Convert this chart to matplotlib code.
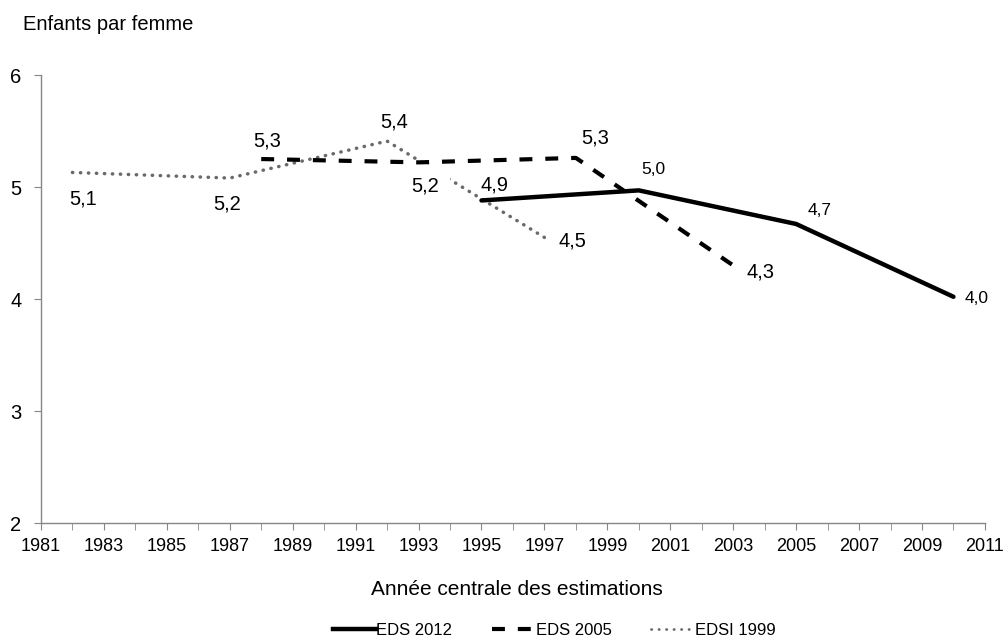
import matplotlib
matplotlib.use("Agg")
import matplotlib.pyplot as plt
from matplotlib.ticker import MultipleLocator, FixedLocator
from matplotlib.lines import Line2D

plt.rcParams['font.family'] = ['Liberation Sans', 'DejaVu Sans']

# Data
years_2012 = [1995, 2000, 2005, 2010]
vals_2012 = [4.88, 4.97, 4.67, 4.02]
labels_2012 = ["4,9", "5,0", "4,7", "4,0"]

years_2005 = [1988, 1993, 1998, 2003]
vals_2005 = [5.25, 5.22, 5.26, 4.30]
labels_2005 = ["5,3", "5,2", "5,3", "4,3"]

years_1999 = [1982, 1987, 1992, 1997]
vals_1999 = [5.13, 5.08, 5.41, 4.55]
labels_1999 = ["5,1", "5,2", "5,4", "4,5"]

series_names = ["EDS 2012", "EDS 2005", "EDSI 1999"]
xtick_years = list(range(1981, 2012, 2))

fig = plt.figure(figsize=(10.04, 6.39), dpi=100)
ax = fig.add_axes([0.0408, 0.1815, 0.9402, 0.7011])

dot_style = (0, (0.1, 2.2))
dash_style = (0, (3.1, 3.1))
dot_color = '#6a6a6a'

ax.plot(years_1999, vals_1999, color=dot_color, lw=2.5, ls=dot_style,
        dash_capstyle='round', zorder=2)
ax.plot(years_2005, vals_2005, color='black', lw=3.0, ls=dash_style, zorder=3)
ax.plot(years_2012, vals_2012, color='black', lw=3.2, solid_joinstyle='round',
        solid_capstyle='round', zorder=4)

# label offsets in points (dx, dy)
off_1999 = [(8, -19), (-2, -19), (5, 14), (20, -2.6)]
off_2005 = [(4, 13), (4.6, -17), (13.7, 14.4), (20, -4.8)]
off_2012 = [(9.6, 11), (10.8, 14.7), (17, 10), (17, -1.5)]
sizes_2012 = [14.5, 12.5, 12.5, 12.5]

for x, y, t, o in zip(years_1999, vals_1999, labels_1999, off_1999):
    ax.annotate(t, (x, y), xytext=o, textcoords='offset points', ha='center', va='center',
                fontsize=14.5, zorder=5)
for i, (x, y, t, o) in enumerate(zip(years_2005, vals_2005, labels_2005, off_2005)):
    bb = dict(boxstyle='square,pad=0.55', fc='white', ec='none') if i == 1 else None
    ax.annotate(t, (x, y), xytext=o, textcoords='offset points', ha='center', va='center',
                fontsize=14.5, bbox=bb, zorder=2.5)
for x, y, t, o, s in zip(years_2012, vals_2012, labels_2012, off_2012, sizes_2012):
    ax.annotate(t, (x, y), xytext=o, textcoords='offset points', ha='center', va='center',
                fontsize=s, zorder=5)

ax.set_xlim(1981, 2011)
ax.set_ylim(2, 6)
ax.xaxis.set_major_locator(FixedLocator(xtick_years))
ax.xaxis.set_minor_locator(MultipleLocator(1))
ax.yaxis.set_major_locator(MultipleLocator(1))
for s in ['top', 'right']:
    ax.spines[s].set_visible(False)
for s in ['left', 'bottom']:
    ax.spines[s].set_color('#868686')
    ax.spines[s].set_linewidth(1.0)
ax.tick_params(axis='x', which='both', direction='out', length=5, color='#868686',
               labelsize=13, pad=6)
ax.tick_params(axis='y', which='both', direction='out', length=5, color='#868686',
               labelsize=14.5, pad=9)

fig.text(0.0229, 0.9624, "Enfants par femme", fontsize=14.5, ha='left', va='center')
fig.text(0.515, 0.0767, "Année centrale des estimations", fontsize=15, ha='center', va='center')

handles = [Line2D([], [], color='black', lw=3.2),
           Line2D([], [], color='black', lw=3.0, ls=dash_style),
           Line2D([], [], color=dot_color, lw=2.0, ls=(0, (0.1, 2.6)), dash_capstyle='round')]
fig.legend(handles, series_names, loc='center', bbox_to_anchor=(0.552, 0.014), ncol=3,
           frameon=False, fontsize=12, handlelength=2.6, handletextpad=0.0,
           columnspacing=2.4, borderpad=0)

fig.savefig("out.png", dpi=100)
